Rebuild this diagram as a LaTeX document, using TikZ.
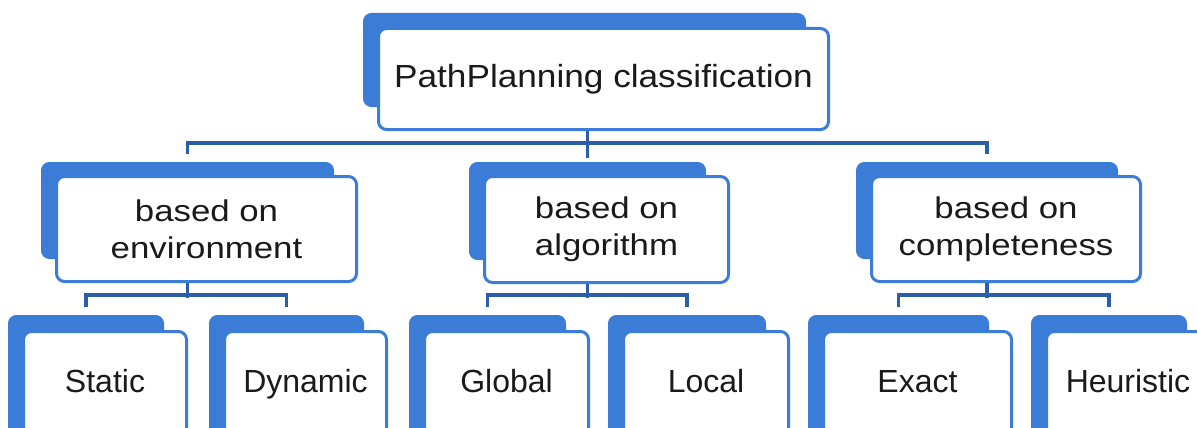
\documentclass[tikz,border=0pt]{standalone}
\usepackage{fontspec}
\setmainfont{Liberation Sans}
\usepackage{graphicx}
\definecolor{boxblue}{HTML}{3A7CD6}
\definecolor{linkblue}{HTML}{2B5DAA}
\definecolor{ink}{HTML}{1A1A1A}
% slightly widened lettering used in the upper two rows
\newcommand\roottxt[1]{\scalebox{1.1}[1]{#1}}
\newcommand\midtxt[1]{\scalebox{1.16}[1]{#1}}

\begin{document}
\begin{tikzpicture}[x=1pt,y=-1pt,
  back/.style={draw=boxblue, fill=boxblue, line width=1pt, rounded corners=8pt,
    anchor=north west, inner sep=0pt},
  front/.style={draw=boxblue, fill=white, line width=3pt, rounded corners=8pt,
    anchor=north west, inner sep=0pt, text=ink},
  rootbox/.style={front, font=\fontsize{32}{38}\selectfont},
  midbox/.style={front, align=center, font=\fontsize{30}{37}\selectfont},
  leafbox/.style={front, font=\fontsize{32}{38}\selectfont,
    text height=61pt, text depth=60pt},
  link/.style={draw=linkblue, line width=3.2pt},
  gap/.style={shorten <=8pt, shorten >=8pt}
]
\useasboundingbox (0,0) rectangle (1197,428);
\clip (0,0) rectangle (1197,428);
\fill[white] (0,0) rectangle (1197,428);

% ---- rear (stacked) plates ----
\node[back, minimum width=442pt, minimum height=93pt] (b-top) at (363,13) {};
\node[back, minimum width=292pt, minimum height=96pt] (b-env) at (41,162) {};
\node[back, minimum width=236pt, minimum height=97pt] (b-alg) at (469,162) {};
\node[back, minimum width=261pt, minimum height=96pt] (b-comp) at (856,162) {};
\node[back, minimum width=155pt, minimum height=130pt] (b-static) at (8,315) {};
\node[back, minimum width=154pt, minimum height=130pt] (b-dynamic) at (209,315) {};
\node[back, minimum width=156pt, minimum height=130pt] (b-global) at (409,315) {};
\node[back, minimum width=157pt, minimum height=130pt] (b-local) at (608,315) {};
\node[back, minimum width=180pt, minimum height=130pt] (b-exact) at (808,315) {};
\node[back, minimum width=155pt, minimum height=130pt] (b-heur) at (1031,315) {};

% ---- front cards ----
\node[rootbox, minimum width=450pt, minimum height=101pt] (top) at (377,27)
  {\roottxt{PathPlanning classification}};
\node[midbox, minimum width=300pt, minimum height=105pt] (env) at (55,175)
  {\midtxt{based on}\\\midtxt{environment}};
\node[midbox, minimum width=244pt, minimum height=106pt] (alg) at (483,175)
  {\midtxt{based on}\\\midtxt{algorithm}};
\node[midbox, minimum width=269pt, minimum height=105pt] (comp) at (870,175)
  {\midtxt{based on}\\\midtxt{completeness}};
\node[leafbox, minimum width=163pt] (static) at (22,330) {Static};
\node[leafbox, minimum width=162pt] (dynamic) at (223,330) {Dynamic};
\node[leafbox, minimum width=164pt] (global) at (423,330) {Global};
\node[leafbox, minimum width=165pt] (local) at (622,330) {Local};
\node[leafbox, minimum width=188pt] (exact) at (822,330) {Exact};
\node[leafbox, minimum width=163pt] (heur) at (1045,330) {Heuristic};

% ---- connectors: root to second row ----
\draw[link] (top.south -| b-alg.north) -- ++(0,27);
\draw[link, gap] (b-env.north) -- ++(0,-19) -| (b-comp.north);

% ---- connectors: second row to leaves ----
\draw[link] (env.south -| b-env.north) -- ++(0,15);
\draw[link, gap] (b-static.north) -- ++(0,-20) -| (b-dynamic.north);
\draw[link] (alg.south -| b-alg.north) -- ++(0,14);
\draw[link, gap] (b-global.north) -- ++(0,-20) -| (b-local.north);
\draw[link] (comp.south -| b-comp.north) -- ++(0,15);
\draw[link, gap] (b-exact.north) -- ++(0,-20) -| (b-heur.north);
\end{tikzpicture}
\end{document}
